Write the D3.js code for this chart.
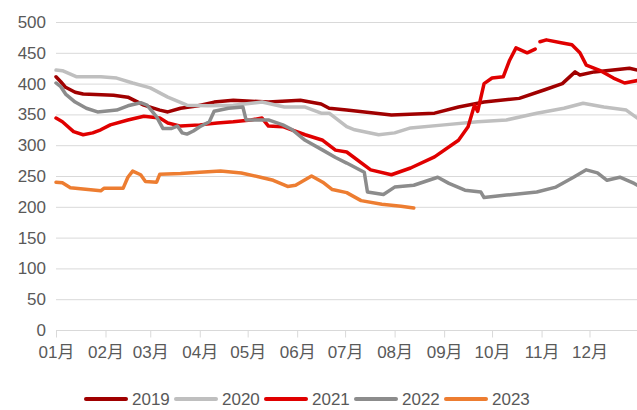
<!DOCTYPE html>
<html>
<head>
<meta charset="utf-8">
<script src="https://cdn.jsdelivr.net/npm/d3@7"></script>
<style>
  html, body { margin: 0; padding: 0; background: #fff; }
  svg { display: block; font-family: "Liberation Sans", Arial, "Noto Sans CJK SC", sans-serif; }
</style>
</head>
<body>
<div id="chart"></div>
<script>
// series (MM-DD, value)
var years = ['2019', '2020', '2021', '2022', '2023'];
var colors = ['#a00000', '#bfbfbf', '#e00000', '#8c8c8c', '#ed7d31'];
var yTicks = [0, 50, 100, 150, 200, 250, 300, 350, 400, 450, 500];

var d2019 = [
  ['01-01', 411], ['01-04', 403], ['01-07', 394], ['01-13', 386], ['01-18', 383], ['02-06', 381],
  ['02-15', 378], ['02-25', 365], ['03-07', 357], ['03-12', 354], ['03-20', 360], ['03-31', 364],
  ['04-10', 370], ['04-22', 373], ['05-14', 370], ['06-03', 373], ['06-16', 367], ['06-21', 360],
  ['07-02', 357], ['07-30', 349], ['08-26', 352], ['09-10', 362], ['09-26', 370], ['10-18', 376],
  ['11-03', 390], ['11-14', 400], ['11-22', 419], ['11-25', 414], ['12-04', 419], ['12-26', 425],
  ['12-31', 422]
];
var d2020 = [
  ['01-01', 422], ['01-05', 421], ['01-14', 411], ['01-29', 411], ['02-08', 409], ['02-18', 401],
  ['03-01', 393], ['03-12', 378], ['03-24', 365], ['04-06', 364], ['04-22', 365], ['05-10', 370],
  ['05-24', 362], ['06-06', 362], ['06-16', 352], ['06-21', 352], ['07-02', 330], ['07-07', 325],
  ['07-22', 317], ['08-01', 320], ['08-11', 328], ['09-01', 333], ['09-22', 338], ['10-10', 341],
  ['10-29', 352], ['11-15', 360], ['11-27', 368], ['12-10', 362], ['12-24', 357], ['12-31', 344]
];
var d2021 = [
  ['01-01', 344], ['01-05', 338], ['01-12', 322], ['01-18', 317], ['01-24', 320], ['01-29', 325],
  ['02-04', 333], ['02-15', 341], ['02-25', 347], ['03-07', 344], ['03-12', 336], ['03-20', 331],
  ['04-01', 333], ['04-12', 336], ['04-22', 338], ['05-03', 341], ['05-10', 344], ['05-14', 331],
  ['05-23', 330], ['06-06', 317], ['06-17', 308], ['06-25', 292], ['07-02', 289], ['07-17', 260],
  ['07-30', 252], ['08-11', 263], ['08-26', 281], ['09-10', 308], ['09-16', 330], ['09-20', 365],
  ['09-22', 355], ['09-26', 400], ['10-01', 409], ['10-08', 411], ['10-12', 438], ['10-16', 458],
  ['10-23', 450], ['10-28', 456], ['10-29', null], ['10-31', 468], ['11-04', 471], ['11-14', 466],
  ['11-20', 463], ['11-25', 450], ['11-29', 430], ['12-07', 422], ['12-16', 409], ['12-23', 401],
  ['12-31', 405]
];
var d2022 = [
  ['01-01', 401], ['01-04', 395], ['01-07', 383], ['01-13', 370], ['01-20', 360], ['01-27', 354],
  ['02-08', 357], ['02-15', 364], ['02-23', 369], ['02-27', 365], ['03-05', 346], ['03-09', 327],
  ['03-14', 327], ['03-18', 331], ['03-21', 320], ['03-24', 318], ['03-28', 323], ['04-01', 330],
  ['04-07', 338], ['04-10', 355], ['04-19', 360], ['04-28', 362], ['04-30', 341], ['05-14', 341],
  ['05-23', 333], ['05-29', 325], ['06-06', 308], ['06-17', 292], ['06-25', 280], ['07-02', 271],
  ['07-13', 256], ['07-15', 224], ['07-25', 220], ['08-01', 232], ['08-13', 235], ['08-28', 248],
  ['09-04', 238], ['09-14', 227], ['09-24', 224], ['09-26', 215], ['10-10', 219], ['10-29', 224],
  ['11-10', 232], ['11-21', 248], ['11-29', 260], ['12-06', 255], ['12-12', 243], ['12-20', 248],
  ['12-29', 238], ['12-31', 235]
];
var d2023 = [
  ['01-01', 240], ['01-05', 239], ['01-10', 231], ['01-29', 226], ['01-31', 230], ['02-12', 230],
  ['02-15', 248], ['02-18', 258], ['02-23', 252], ['02-26', 241], ['03-05', 240], ['03-07', 253],
  ['03-20', 254], ['04-01', 256], ['04-14', 258], ['04-27', 255], ['05-09', 248], ['05-17', 243],
  ['05-26', 233], ['05-31', 235], ['06-10', 250], ['06-17', 240], ['06-23', 228], ['07-02', 223],
  ['07-11', 210], ['07-24', 204], ['08-05', 201], ['08-13', 198]
];
var seriesData = [d2019, d2020, d2021, d2022, d2023];

var width = 637, height = 410;
var margin = {left: 56, right: -2, top: 22, bottom: 80};

var parse = d3.timeParse('%Y-%m-%d');
var start = parse('2019-01-01'), end = parse('2020-01-01');

var x = d3.scaleTime()
    .domain([start, end])
    .range([margin.left, width - margin.right]);
var y = d3.scaleLinear()
    .domain([0, 500])
    .range([height - margin.bottom, margin.top]);

var svg = d3.select('#chart').append('svg')
    .attr('width', width)
    .attr('height', height);

// gridlines
svg.append('g')
  .selectAll('line')
    .data(yTicks.slice(1))
  .enter().append('line')
    .attr('x1', margin.left)
    .attr('x2', width)
    .attr('y1', function(d) { return y(d) + 0.5; })
    .attr('y2', function(d) { return y(d) + 0.5; })
    .style('stroke', '#d9d9d9')
    .style('stroke-width', 1);

// y labels
svg.append('g')
  .selectAll('text')
    .data(yTicks)
  .enter().append('text')
    .attr('x', 46)
    .attr('y', function(d) { return y(d); })
    .attr('dy', '0.35em')
    .attr('text-anchor', 'end')
    .style('font-size', '17px')
    .style('fill', '#595959')
    .text(function(d) { return d; });

// x axis
var xAxis = d3.axisBottom(x)
    .tickValues(d3.timeMonth.range(start, end))
    .tickFormat(d3.timeFormat('%m月'))
    .tickSize(7)
    .tickPadding(8);

var gx = svg.append('g')
    .attr('transform', 'translate(0,' + (y(0) + 0.5) + ')')
    .call(xAxis);
gx.select('.domain').remove();
gx.append('line')
    .attr('x1', margin.left).attr('x2', width)
    .style('stroke', '#d9d9d9');
gx.selectAll('.tick line').style('stroke', '#d9d9d9');
gx.selectAll('.tick text')
    .style('font-size', '17px')
    .style('fill', '#595959')
    .style('font-family', '"Liberation Sans", Arial, "Noto Sans CJK SC", sans-serif');

// lines
var line = d3.line()
    .defined(function(d) { return d[1] !== null; })
    .x(function(d) { return x(parse('2019-' + d[0])); })
    .y(function(d) { return y(d[1]); });

svg.append('g')
  .selectAll('path')
    .data(seriesData)
  .enter().append('path')
    .attr('d', line)
    .style('fill', 'none')
    .style('stroke', function(d, i) { return colors[i]; })
    .style('stroke-width', 3.5)
    .style('stroke-linejoin', 'round')
    .style('stroke-linecap', 'round');

// legend
var legend = svg.append('g')
  .selectAll('g')
    .data(years)
  .enter().append('g')
    .attr('transform', function(d, i) { return 'translate(' + (86 + i * 90) + ',399)'; });
legend.append('line')
    .attr('x1', 0).attr('x2', 40)
    .style('stroke', function(d, i) { return colors[i]; })
    .style('stroke-width', 4)
    .style('stroke-linecap', 'round');
legend.append('text')
    .attr('x', 46)
    .attr('dy', '0.35em')
    .style('font-size', '17px')
    .style('fill', '#595959')
    .text(function(d) { return d; });
</script>
</body>
</html>
